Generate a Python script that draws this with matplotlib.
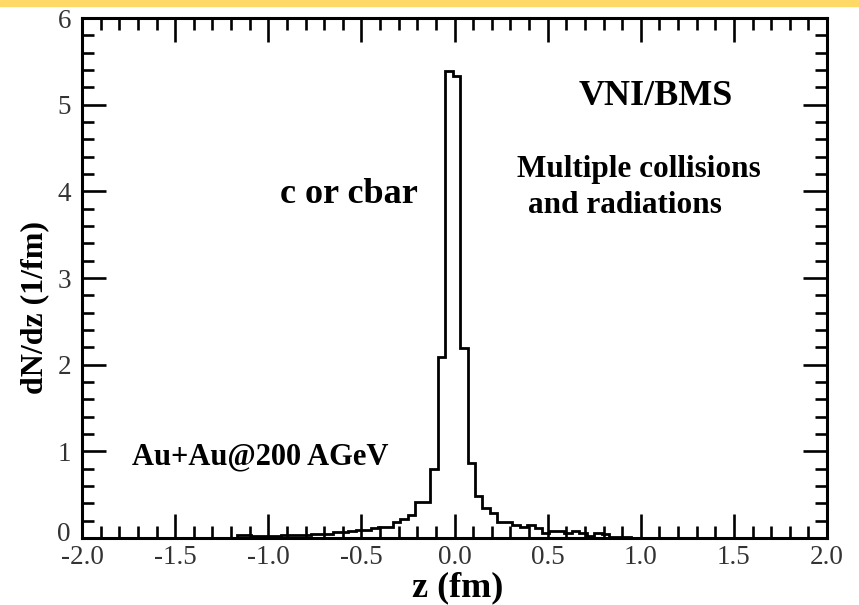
import numpy as np
import matplotlib
matplotlib.use("Agg")
import matplotlib.pyplot as plt
import matplotlib.transforms as mtransforms
from matplotlib.patches import Rectangle
from matplotlib.ticker import MultipleLocator

# ---------------- data ----------------
bin_first_edge = -1.17
bin_width = 0.04
dndz = [0.04, 0.04, 0.02, 0.02, 0.02, 0.02, 0.04, 0.04, 0.03, 0.03,
        0.05, 0.05, 0.05, 0.075, 0.075, 0.08, 0.09, 0.09, 0.12, 0.125,
        0.13, 0.19, 0.225, 0.26, 0.42, 0.42, 0.80, 2.09, 5.39, 5.33,
        2.19, 0.87, 0.48, 0.35, 0.285, 0.19, 0.19, 0.15, 0.13, 0.155,
        0.12, 0.06, 0.085, 0.085, 0.055, 0.085, 0.055, 0.02, 0.055, 0.05,
        0.015, 0.01, 0.01, 0.005, 0.005]
edges = bin_first_edge + bin_width * np.arange(len(dndz) + 1)

xticks = [-2.0, -1.5, -1.0, -0.5, 0.0, 0.5, 1.0, 1.5, 2.0]
xticklabels = ["-2.0", "-1.5", "-1.0", "-0.5", "0.0", "0.5", "1.0", "1.5", "2.0"]
yticks = [0, 1, 2, 3, 4, 5, 6]

# ---------------- figure ----------------
W, H = 859, 605
fig = plt.figure(figsize=(W / 100, H / 100), dpi=100)
fig.patches.append(Rectangle((0, 1 - 6 / H), 1, 6 / H, transform=fig.transFigure,
                             color="#FFD966", zorder=0))

L, R, T, B = 82, 827, 18, 538
ax = fig.add_axes([L / W, (H - B) / H, (R - L) / W, (B - T) / H])

ax.stairs(dndz, edges, color="black", linewidth=2.0, baseline=0)

ax.set_xlim(-2.0, 2.0)
ax.set_ylim(0, 6)

serif = ["Liberation Serif", "DejaVu Serif"]

ax.set_xticks(xticks)
ax.set_xticklabels(xticklabels)
ax.set_yticks(yticks)
ax.xaxis.set_minor_locator(MultipleLocator(0.1))
ax.yaxis.set_minor_locator(MultipleLocator(0.2))
ax.tick_params(which="both", direction="in", top=True, right=True,
               width=1.9, color="black")
ax.tick_params(which="major", length=17)
ax.tick_params(which="minor", length=8.5)
ax.tick_params(axis="x", which="major", pad=5)
ax.tick_params(axis="y", which="major", pad=8)
for lab in ax.get_xticklabels() + ax.get_yticklabels():
    lab.set_fontfamily(serif)
    lab.set_fontsize(19.5)
    lab.set_color("#333333")

# nudge the y "0" label up a little so it sits clear of "-2.0"
zero_lab = ax.yaxis.get_major_ticks()[0].label1
zero_lab.set_transform(zero_lab.get_transform() +
                       mtransforms.ScaledTranslation(0, 5 / 72, fig.dpi_scale_trans))

for sp in ax.spines.values():
    sp.set_linewidth(2.2)

# axis labels
fig.text(458 / W, 1 - 588 / H, "z (fm)", fontfamily=serif, fontweight="bold",
         fontsize=26, ha="center", va="center")
fig.text(35 / W, 1 - 308 / H, "dN/dz (1/fm)", fontfamily=serif, fontweight="bold",
         fontsize=23, ha="center", va="center", rotation=90)

# annotations
ax.text(1.08, 5.0, "VNI/BMS", fontfamily=serif, fontweight="bold", fontsize=26,
        ha="center", va="baseline")
ax.text(0.336, 4.16, "Multiple collisions", fontfamily=serif, fontweight="bold",
        fontsize=22.5, ha="left", va="baseline")
ax.text(0.395, 3.75, "and radiations", fontfamily=serif, fontweight="bold",
        fontsize=22.5, ha="left", va="baseline")
ax.text(-0.937, 3.87, "c or cbar", fontfamily=serif, fontweight="bold",
        fontsize=26, ha="left", va="baseline")
ax.text(-1.731, 0.844, "Au+Au@200 AGeV", fontfamily=serif, fontweight="bold",
        fontsize=22, ha="left", va="baseline")

fig.savefig("out.png", dpi=100)
